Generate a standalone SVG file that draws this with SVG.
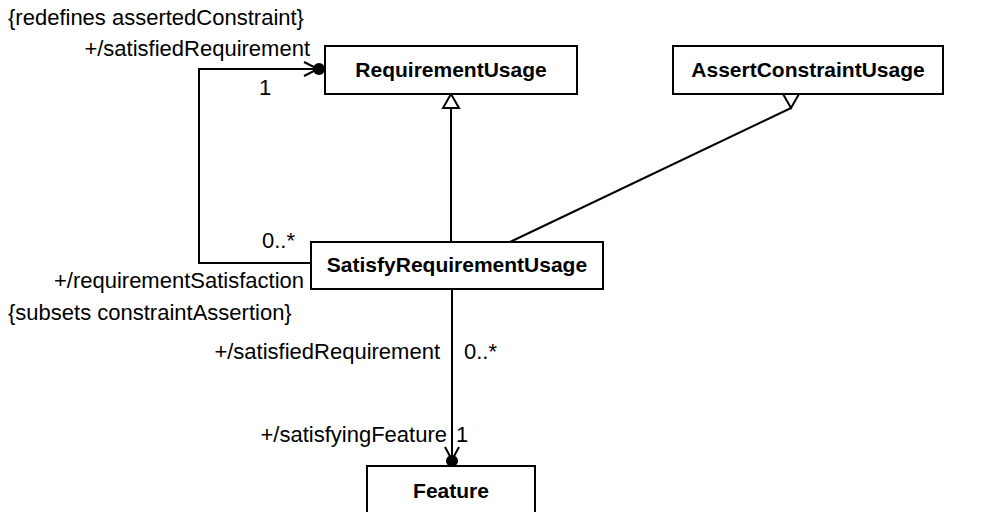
<svg xmlns="http://www.w3.org/2000/svg" width="986" height="512" viewBox="0 0 986 512">
<style>
.box{fill:#fff;stroke:#000;stroke-width:2}
.name{font-family:"Liberation Sans",Arial,sans-serif;font-size:21px;font-weight:bold;text-anchor:middle;fill:#000}
.lbl{font-family:"Liberation Sans",Arial,sans-serif;font-size:22px;fill:#000}
.end{text-anchor:end}
.ln{fill:none;stroke:#000;stroke-width:2}
.tri{fill:#fff;stroke:#000;stroke-width:2}
</style>
<rect width="986" height="512" fill="#fff"/>
<g id="connectors">
  <line class="ln" x1="451" y1="242" x2="451" y2="108"/>
  <polygon class="tri" points="451,94 443,108 459,108"/>
  <line class="ln" x1="510" y1="242" x2="791" y2="108"/>
  <polygon class="tri" points="783,94 799,94 791,108"/>
  <polyline class="ln" points="311,263 199,263 199,69 318,69"/>
  <polyline class="ln" points="304,62 318,69 304,76"/>
  <circle cx="319" cy="69" r="6" fill="#000"/>
  <line class="ln" x1="452" y1="289" x2="452" y2="460"/>
  <polyline class="ln" points="445,447 452,460 459,447"/>
  <circle cx="452" cy="461" r="6" fill="#000"/>
</g>
<g id="RequirementUsage">
  <rect class="box" x="325" y="46" width="252" height="48"/>
  <text class="name" x="451" y="77">RequirementUsage</text>
</g>
<g id="AssertConstraintUsage">
  <rect class="box" x="673" y="46" width="270" height="48"/>
  <text class="name" x="808" y="77">AssertConstraintUsage</text>
</g>
<g id="SatisfyRequirementUsage">
  <rect class="box" x="311" y="242" width="292" height="47"/>
  <text class="name" x="457" y="272">SatisfyRequirementUsage</text>
</g>
<g id="Feature">
  <rect class="box" x="367" y="466" width="168" height="50"/>
  <text class="name" x="451" y="498">Feature</text>
</g>
<g id="labels">
  <text class="lbl" x="8" y="25">{redefines assertedConstraint}</text>
  <text class="lbl end" x="310" y="56">+/satisfiedRequirement</text>
  <text class="lbl" x="259" y="95">1</text>
  <text class="lbl" x="262" y="248">0..*</text>
  <text class="lbl end" x="304" y="288">+/requirementSatisfaction</text>
  <text class="lbl" x="8" y="320">{subsets constraintAssertion}</text>
  <text class="lbl end" x="440" y="359">+/satisfiedRequirement</text>
  <text class="lbl" x="464" y="359">0..*</text>
  <text class="lbl end" x="447" y="442">+/satisfyingFeature</text>
  <text class="lbl" x="456" y="442">1</text>
</g>
</svg>
